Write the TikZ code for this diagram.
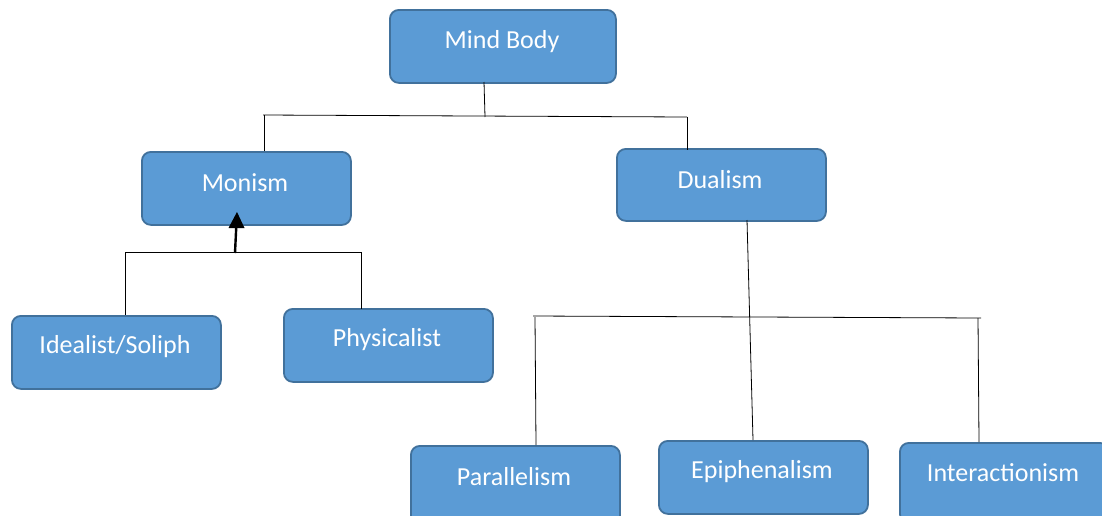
\documentclass[tikz,border=0pt]{standalone}
\usepackage{fontspec}
\setmainfont{Carlito}
\usetikzlibrary{arrows.meta}
\definecolor{boxfill}{HTML}{5B9BD5}
\definecolor{boxedge}{HTML}{41719C}
\begin{document}
\begin{tikzpicture}[x=1pt,y=-1pt,
  box/.style={draw=boxedge,line width=1.8pt,fill=boxfill,rounded corners=9pt,
    minimum width=209pt,minimum height=73pt,anchor=north west,inner sep=0pt},
  lbl/.style={text=white,font=\fontsize{26}{30}\selectfont,inner sep=0pt},
  conn/.style={draw=black,line width=0.8pt}]
\useasboundingbox (0,0) rectangle (1102,515);
\fill[white] (0,0) rectangle (1102,515);
\begin{scope}
\clip (0,0) rectangle (1102,515);
\node[box,minimum width=226pt] (mind) at (389,9) {};
\node[lbl] (tmind) at (502,42) {Mind Body};
\node[box] (monism) at (141,151) {};
\node[lbl] (tmonism) at (245,183) {Monism};
\node[box,minimum height=72pt] (dualism) at (616,148) {};
\node[lbl] (tdualism) at (720,180) {Dualism};
\node[box] (ideal) at (11,315) {};
\node[lbl] (tideal) at (115,347) {Idealist/Soliph};
\node[box] (phys) at (283,308) {};
\node[lbl] (tphys) at (387,340) {Physicalist};
\node[box,minimum height=80pt] (par) at (410,445) {};
\node[lbl] (tpar) at (514,477) {Parallelism};
\node[box,minimum height=73pt] (epi) at (658,440) {};
\node[lbl] (tepi) at (762,472) {Epiphenalism};
\node[box,minimum height=80pt] (inter) at (899,442) {};
\node[lbl] (tinter) at (1003,473) {Interactionism};
\end{scope}
% connectors top
\coordinate (j1) at (485,117);
\coordinate (l1) at (263,115);
\coordinate (r1) at (687,117);
\draw[conn] (484,82) -- (j1);
\draw[conn] (l1) -- (r1);
\draw[conn] (264,115) -- (264,151);
\draw[conn] (687,117) -- (687,150);
% monism branch
\coordinate (ml) at (125,252);
\coordinate (mr) at (361,252);
\coordinate (atail) at (235,253);
\coordinate (atip) at (237,212);
\draw[conn] (ml) -- (mr);
\draw[conn] (125,252) -- (125,315);
\draw[conn] (361,252) -- (361,309);
\draw[line width=2.4pt] (atail) -- (236.3,226);
\fill[black] (atip) -- (244.5,228) -- (228.5,228) -- cycle;
% dualism branch
\coordinate (dl) at (533,316);
\coordinate (dr) at (981,318);
\draw[conn] (dl) -- (dr);
\draw[conn] (747,220) -- (753,440);
\draw[conn] (535,317) -- (536,445);
\draw[conn] (978,318) -- (979,442);
\end{tikzpicture}
\end{document}
